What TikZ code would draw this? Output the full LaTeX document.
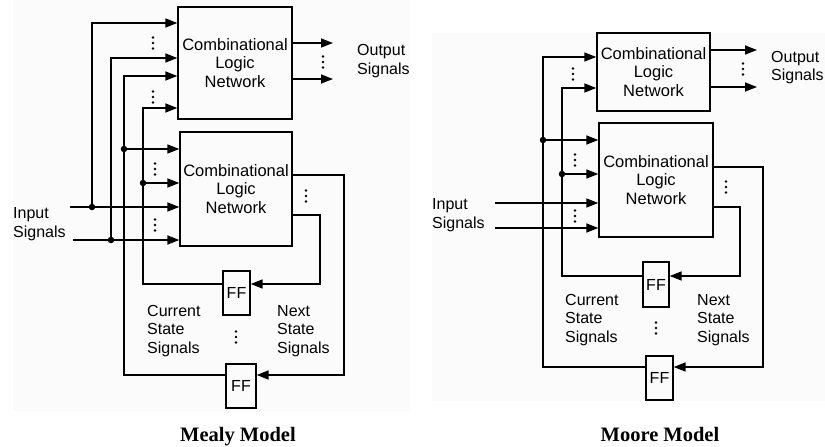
\documentclass[tikz,border=0pt]{standalone}
\usepackage{fontspec}
\setmainfont{Liberation Sans}
\newfontfamily\titlefont{Liberation Serif}
\usetikzlibrary{arrows.meta}
\begin{document}
\begin{tikzpicture}[x=1pt,y=-1pt,
  wire/.style={line width=1.5pt},
  arr/.style={wire,-{Triangle[length=12pt,width=9pt]}},
  clbox/.style={draw,line width=1.3pt,align=center,inner sep=0pt,font=\fontsize{16.5}{18.5}\selectfont},
  ffbox/.style={draw,line width=1.3pt,inner sep=0pt,font=\fontsize{16}{18}\selectfont},
  lbl/.style={align=left,anchor=west,inner sep=0pt,font=\fontsize{16}{18.5}\selectfont},
  ttl/.style={inner sep=0pt,anchor=base,font=\titlefont\bfseries\fontsize{20.5}{24}\selectfont},
  jdot/.style={circle,fill,inner sep=0pt,minimum size=6.5pt},
  vd/.pic={\fill (0,-5.5) circle (1.4pt) (0,0) circle (1.4pt) (0,5.5) circle (1.4pt);}
]
\fill[black!1.5] (13,0) rectangle (410,411);
\fill[black!1.5] (432,33) rectangle (825,401);
\useasboundingbox (0,0) rectangle (825,447);

% ================= Mealy =================
\node[clbox,minimum width=114pt,minimum height=112pt] (A) at (235,63) {Combinational\\Logic\\Network};
\node[clbox,minimum width=112pt,minimum height=114pt] (B) at (236,189) {Combinational\\Logic\\Network};
\node[ffbox,minimum width=27pt,minimum height=44pt] (FF1) at (236.5,293) {FF};
\node[ffbox,minimum width=30pt,minimum height=44pt] (FF2) at (241,386) {FF};

\coordinate (in1) at (70,207);
\coordinate (in2) at (73,240);
\node[jdot] (j1) at (92,207) {};
\node[jdot] (j2) at (111,240) {};
\node[jdot] (j3) at (124,149) {};
\node[jdot] (j4) at (143,183) {};
\coordinate (o1) at (333,43);
\coordinate (o2) at (333,79);

\draw[arr] (in1) -- (B.west |- in1);
\draw[arr] (in2) -- (B.west |- in2);
\draw[arr] (j1.center) |- (A.west |- 0,23);
\draw[arr] (j2.center) |- (A.west |- 0,58);
\draw[arr] (j3.center) -- (B.west |- j3);
\draw[arr] (j4.center) -- (B.west |- j4);
\draw[arr] (B.east |- 0,215) -| (320,284) -- (FF1.east |- 0,284);
\draw[arr] (FF1.west |- 0,284) -| (143,108) -- (A.west |- 0,108);
\draw[arr] (B.east |- 0,175) -| (344,375) -- (FF2.east |- 0,375);
\draw[arr] (FF2.west |- 0,375) -| (124,76) -- (A.west |- 0,76);
\draw[arr] (A.east |- o1) -- (o1);
\draw[arr] (A.east |- o2) -- (o2);

\pic at (153,43) {vd};
\pic at (153,97) {vd};
\pic at (155,169) {vd};
\pic at (155,225) {vd};
\pic at (323,62) {vd};
\pic at (306,196) {vd};
\pic at (236,337) {vd};

\node[lbl] (outM) at (357,61) {Output\\Signals};
\node[lbl] (inM) at (13,224) {Input\\Signals};
\node[lbl] (curM) at (147,331) {Current\\State\\Signals};
\node[lbl] (nxtM) at (277,331) {Next\\State\\Signals};
\node[ttl] (tM) at (238,441) {Mealy Model};

% ================= Moore =================
\node[clbox,minimum width=113pt,minimum height=78pt] (C) at (653.5,72) {Combinational\\Logic\\Network};
\node[clbox,minimum width=114pt,minimum height=114pt] (D) at (656,180) {Combinational\\Logic\\Network};
\node[ffbox,minimum width=26pt,minimum height=45pt] (FF3) at (656,284.5) {FF};
\node[ffbox,minimum width=27pt,minimum height=44pt] (FF4) at (659.5,378) {FF};

\coordinate (in3) at (495,203);
\coordinate (in4) at (495,228);
\node[jdot] (j5) at (543,140) {};
\node[jdot] (j6) at (562,174) {};
\coordinate (o3) at (757,50);
\coordinate (o4) at (757,87);

\draw[arr] (in3) -- (D.west |- in3);
\draw[arr] (in4) -- (D.west |- in4);
\draw[arr] (j5.center) -- (D.west |- j5);
\draw[arr] (j6.center) -- (D.west |- j6);
\draw[arr] (D.east |- 0,207) -| (740,276) -- (FF3.east |- 0,276);
\draw[arr] (FF3.west |- 0,276) -| (562,88) -- (C.west |- 0,88);
\draw[arr] (D.east |- 0,167) -| (763,367) -- (FF4.east |- 0,367);
\draw[arr] (FF4.west |- 0,367) -| (543,57) -- (C.west |- 0,57);
\draw[arr] (C.east |- o3) -- (o3);
\draw[arr] (C.east |- o4) -- (o4);

\pic at (573,74) {vd};
\pic at (575,160) {vd};
\pic at (575,216) {vd};
\pic at (743,69) {vd};
\pic at (726,187) {vd};
\pic at (656,328) {vd};

\node[lbl] (outR) at (771,67.5) {Output\\Signals};
\node[lbl] (inR) at (432,215) {Input\\Signals};
\node[lbl] (curR) at (565,320) {Current\\State\\Signals};
\node[lbl] (nxtR) at (697,320) {Next\\State\\Signals};
\node[ttl] (tR) at (660,441) {Moore Model};
\end{tikzpicture}
\end{document}
